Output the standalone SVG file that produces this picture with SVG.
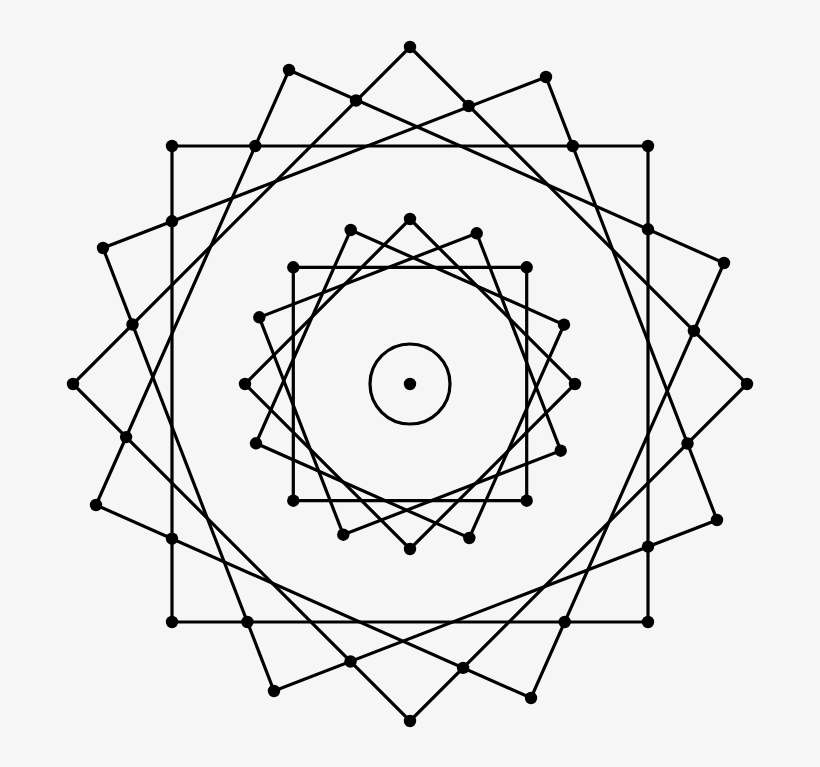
<svg xmlns="http://www.w3.org/2000/svg" width="820" height="767" viewBox="0 0 820 767">
<style>
.ln{fill:none;stroke:#000;stroke-width:3.2;stroke-linejoin:miter}
.dt circle{fill:#000}
</style>
<rect width="820" height="767" fill="#f6f6f6"/>
<g id="outer-shapes">
<polygon id="outer-diamond" class="ln" points="410,47 747,384 410,721 73,384"/>
<polygon id="outer-square" class="ln" points="172,146 648,146 648,622 172,622"/>
<polygon id="outer-square-a" class="ln" points="546,77 717,520 274,691 103,248"/>
<polygon id="outer-square-b" class="ln" points="289,70 724,263 531,698 96,505"/>
</g>
<g id="inner-shapes">
<polygon id="inner-diamond" class="ln" points="410,219 575,384 410,549 245,384"/>
<polygon id="inner-square" class="ln" points="293.3,267.3 526.7,267.3 526.7,500.7 293.3,500.7"/>
<polygon id="inner-square-a" class="ln" points="476.7,233.3 560.7,450.7 343.3,534.7 259.3,317.3"/>
<polygon id="inner-square-b" class="ln" points="350.7,230 564,324.7 469.3,538 256,443.3"/>
<circle id="center-circle" class="ln" cx="410" cy="384" r="40"/>
</g>
<g id="outer-vertices" class="dt">
<circle cx="410" cy="47" r="6.2"/><circle cx="747" cy="384" r="6.2"/><circle cx="410" cy="721" r="6.2"/><circle cx="73" cy="384" r="6.2"/>
<circle cx="172" cy="146" r="6.2"/><circle cx="648" cy="146" r="6.2"/><circle cx="648" cy="622" r="6.2"/><circle cx="172" cy="622" r="6.2"/>
<circle cx="546" cy="77" r="6.2"/><circle cx="717" cy="520" r="6.2"/><circle cx="274" cy="691" r="6.2"/><circle cx="103" cy="248" r="6.2"/>
<circle cx="289" cy="70" r="6.2"/><circle cx="724" cy="263" r="6.2"/><circle cx="531" cy="698" r="6.2"/><circle cx="96" cy="505" r="6.2"/>
</g>
<g id="outer-crossings" class="dt">
<circle cx="356" cy="100.5" r="6.2"/><circle cx="468.7" cy="106" r="6.2"/><circle cx="572.8" cy="146" r="6.2"/><circle cx="648" cy="229.3" r="6.2"/>
<circle cx="693.9" cy="330.9" r="6.2"/><circle cx="687.5" cy="443.5" r="6.2"/><circle cx="648" cy="546.6" r="6.2"/><circle cx="564.7" cy="622" r="6.2"/>
<circle cx="463.1" cy="667.9" r="6.2"/><circle cx="350.5" cy="661.5" r="6.2"/><circle cx="247.4" cy="622" r="6.2"/><circle cx="172" cy="538.7" r="6.2"/>
<circle cx="126.1" cy="437.1" r="6.2"/><circle cx="132.5" cy="324.5" r="6.2"/><circle cx="172" cy="221.3" r="6.2"/><circle cx="255.3" cy="146" r="6.2"/>
</g>
<g id="inner-vertices" class="dt">
<circle cx="410" cy="219" r="6.2"/><circle cx="575" cy="384" r="6.2"/><circle cx="410" cy="549" r="6.2"/><circle cx="245" cy="384" r="6.2"/>
<circle cx="293.3" cy="267.3" r="6.2"/><circle cx="526.7" cy="267.3" r="6.2"/><circle cx="526.7" cy="500.7" r="6.2"/><circle cx="293.3" cy="500.7" r="6.2"/>
<circle cx="476.7" cy="233.3" r="6.2"/><circle cx="560.7" cy="450.7" r="6.2"/><circle cx="343.3" cy="534.7" r="6.2"/><circle cx="259.3" cy="317.3" r="6.2"/>
<circle cx="350.7" cy="230" r="6.2"/><circle cx="564" cy="324.7" r="6.2"/><circle cx="469.3" cy="538" r="6.2"/><circle cx="256" cy="443.3" r="6.2"/>
<circle id="center-dot" cx="410" cy="384" r="6.2"/>
</g>
</svg>
